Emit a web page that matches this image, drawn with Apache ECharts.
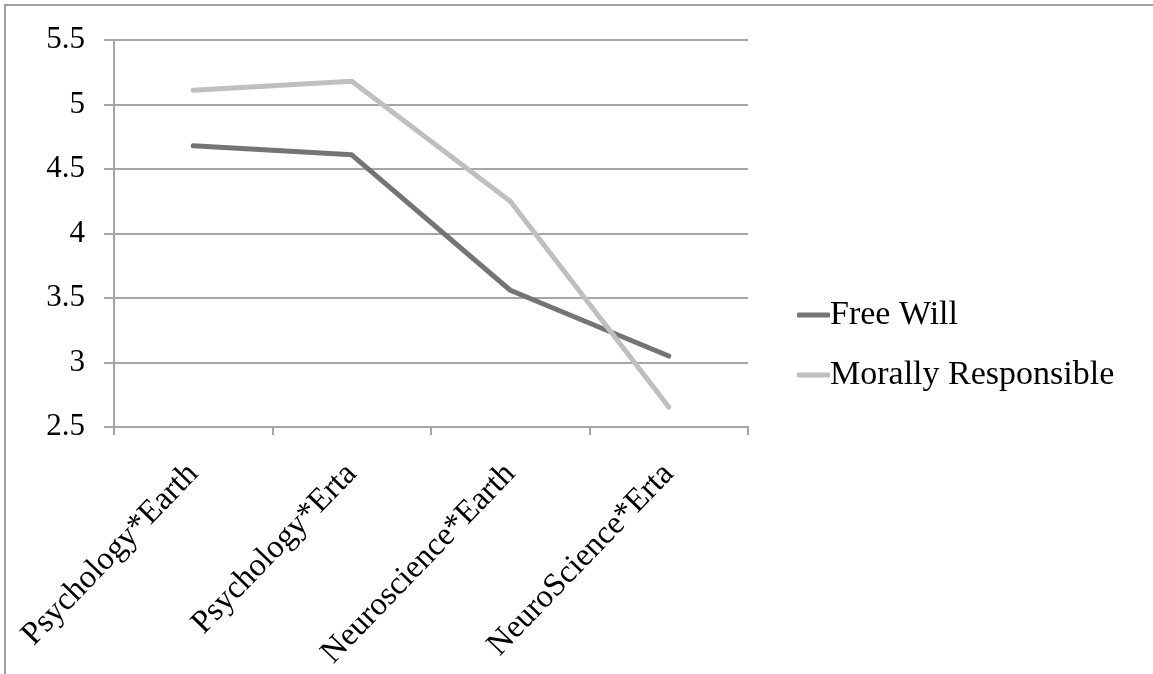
<!DOCTYPE html>
<html>
<head>
<meta charset="utf-8">
<script src="https://cdn.jsdelivr.net/npm/echarts@6/dist/echarts.min.js"></script>
<style>
html,body{margin:0;padding:0;background:#fff;}
#c{width:1153px;height:674px;}
</style>
</head>
<body>
<div id="c"></div>
<script>
const categories = ['Psychology*Earth', 'Psychology*Erta', 'Neuroscience*Earth', 'NeuroScience*Erta'];
const freeWill = [4.68, 4.61, 3.56, 3.05];
const morallyResponsible = [5.11, 5.18, 4.25, 2.655];
const seriesNames = ['Free Will', 'Morally Responsible'];

const font = 'Liberation Serif';
const axisColor = '#a6a6a6';
const chart = echarts.init(document.getElementById('c'));
chart.setOption({
  animation: false,
  backgroundColor: '#fff',
  graphic: [{
    type: 'rect',
    shape: { x: 5, y: 5, width: 1300, height: 800 },
    style: { fill: 'none', stroke: '#a0a0a0', lineWidth: 2 },
    z: -1
  }],
  grid: { left: 114, right: 405, top: 40, bottom: 247 },
  legend: {
    orient: 'vertical',
    left: 792,
    top: 293,
    itemWidth: 33,
    itemHeight: 5,
    itemGap: 26,
    icon: 'roundRect',
    textStyle: { fontFamily: font, fontSize: 34, color: '#000', padding: [0, 0, 0, -5] },
    data: seriesNames
  },
  xAxis: {
    type: 'category',
    data: categories,
    boundaryGap: true,
    axisLine: { lineStyle: { color: axisColor, width: 2 } },
    axisTick: { show: true, length: 8, lineStyle: { color: axisColor, width: 2 } },
    axisLabel: { rotate: 46, fontFamily: font, fontSize: 32.5, color: '#000', margin: 42 },
    splitLine: { show: false }
  },
  yAxis: {
    type: 'value',
    min: 2.5,
    max: 5.5,
    interval: 0.5,
    axisLine: { show: true, lineStyle: { color: axisColor, width: 2 } },
    axisTick: { show: true, length: 10, lineStyle: { color: axisColor, width: 2 } },
    axisLabel: { fontFamily: font, fontSize: 31, color: '#000', margin: 29 },
    splitLine: { show: true, lineStyle: { color: axisColor, width: 2 } }
  },
  series: [
    {
      name: seriesNames[0], type: 'line', data: freeWill, symbol: 'none',
      itemStyle: { color: '#747474' },
      lineStyle: { color: '#747474', width: 5, cap: 'round', join: 'round' }
    },
    {
      name: seriesNames[1], type: 'line', data: morallyResponsible, symbol: 'none',
      itemStyle: { color: '#bfbfbf' },
      lineStyle: { color: '#bfbfbf', width: 5, cap: 'round', join: 'round' }
    }
  ]
});
</script>
</body>
</html>
